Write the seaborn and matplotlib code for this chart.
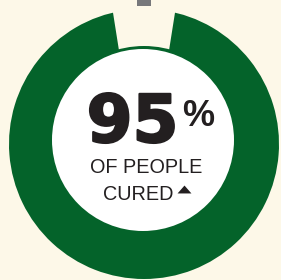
import matplotlib
matplotlib.use("Agg")
import matplotlib.pyplot as plt
import matplotlib.patheffects as pe
from matplotlib.patches import Circle, Rectangle
import seaborn as sns

# ---- data ----
labels = ["Cured", "Not cured"]
values = [95, 5]
headline = "95"
unit = "%"
line1 = "OF PEOPLE"
line2 = "CURED"

GREEN = "#04632a"
CREAM = "#fdf8e8"
WHITE = "#ffffff"
INK = "#231f20"
GREY = "#77787b"

sns.set_theme(style="white", rc={"figure.facecolor": CREAM, "axes.facecolor": CREAM})

W, H = 281, 280
fig = plt.figure(figsize=(W / 100, H / 100), dpi=100)
ax = fig.add_axes([0, 0, 1, 1])
ax.set_facecolor(CREAM)

def Y(y):
    return H - y

# ring: 95% green, 5% gap at top
gap_frac = values[1] / sum(values)
start = 90 + 360 * gap_frac / 2
wedges, _ = ax.pie(values, colors=[GREEN, CREAM], radius=135, center=(144, Y(144)),
                   startangle=start, counterclock=True,
                   wedgeprops=dict(linewidth=0))
wedges[1].set_edgecolor(CREAM)
wedges[1].set_linewidth(14.5)
wedges[1].set_joinstyle("miter")

# inner green ring and white centre
ax.add_patch(Circle((144, Y(144)), 98, facecolor=GREEN, edgecolor="none", zorder=3))
ax.add_patch(Circle((143, Y(140)), 91, facecolor=WHITE, edgecolor="none", zorder=4))

# grey pointer at top
ax.add_patch(Rectangle((137, Y(6)), 14, 8, facecolor=GREY, edgecolor="none", zorder=5))

# texts
ax.text(132.5, Y(142), headline, ha="center", va="baseline", fontsize=47.5,
        fontweight="bold", family=["DejaVu Sans"], color=INK, zorder=6,
        path_effects=[pe.withStroke(linewidth=1.6, foreground=INK)])
ax.text(182, Y(126), unit, ha="left", va="baseline", fontsize=26,
        fontweight="bold", family=["Liberation Sans", "DejaVu Sans"], color=INK, zorder=6)
ax.text(146.5, Y(173), line1, ha="center", va="baseline", fontsize=14.3,
        family=["Liberation Sans", "DejaVu Sans"], color=INK, zorder=6)
ax.text(103, Y(200), line2, ha="left", va="baseline", fontsize=14.3,
        family=["Liberation Sans", "DejaVu Sans"], color=INK, zorder=6)
ax.plot([184], [Y(189)], marker=[(-1, -0.57), (1, -0.57), (0, 0.57)], ms=10,
        color=INK, markeredgewidth=0, zorder=6)

ax.set_xlim(0, W)
ax.set_ylim(0, H)
ax.set_aspect("equal")
ax.axis("off")

fig.savefig("out.png", dpi=100, facecolor=CREAM)
